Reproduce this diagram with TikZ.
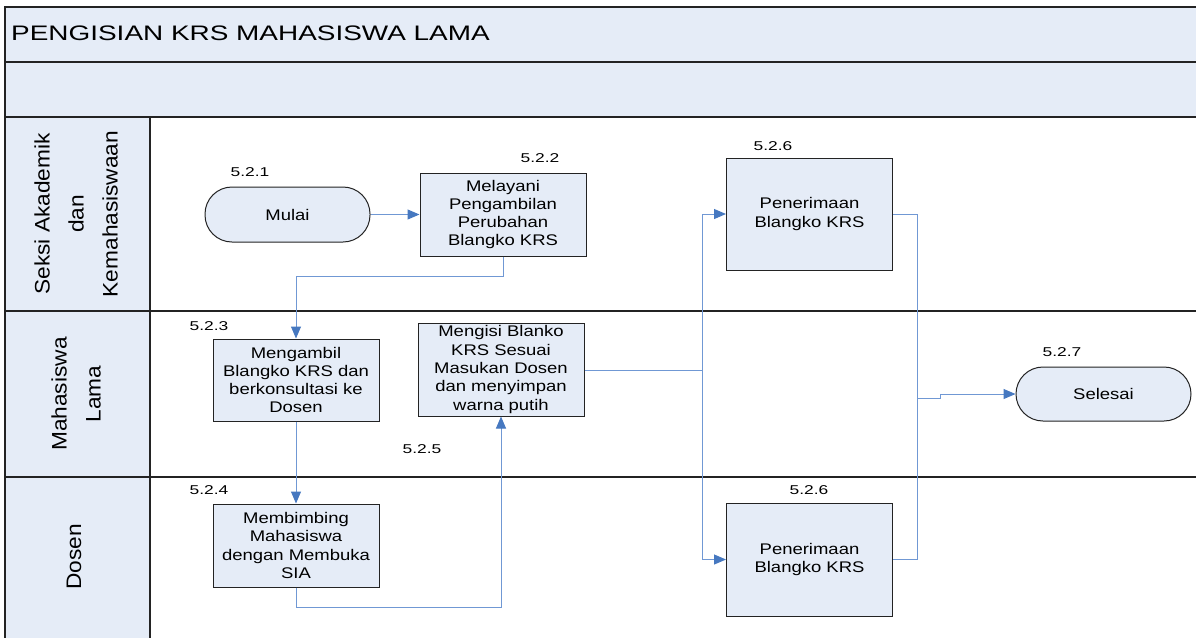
\documentclass[tikz,border=0pt]{standalone}
\usepackage{fontspec}
\setmainfont{Liberation Sans}
\newfontfamily\titlefont[FakeStretch=1.33]{Liberation Sans}
\newfontfamily\boxfont[FakeStretch=1.2]{Liberation Sans}
\newfontfamily\numfont[FakeStretch=1.36]{Liberation Sans}
\newfontfamily\lanefont[FakeStretch=1.08]{Liberation Sans}
\usetikzlibrary{arrows.meta,positioning}
\definecolor{lanefill}{RGB}{229,236,247}
\definecolor{boxfill}{RGB}{229,236,247}
\definecolor{connc}{RGB}{112,152,212}
\definecolor{tipc}{RGB}{70,120,192}
\definecolor{borderc}{RGB}{35,35,35}
\tikzset{
  procbox/.style={draw=borderc,line width=1pt,fill=boxfill,minimum width=166pt,text width=162pt,align=center,font=\boxfont\fontsize{15.4}{18.3}\selectfont,inner sep=2pt},
  term/.style={draw=borderc,line width=1pt,fill=boxfill,rounded corners=27pt,font=\boxfont\fontsize{15.4}{18.3}\selectfont},
  numlbl/.style={font=\numfont\fontsize{12.8}{15}\selectfont,inner sep=0pt},
  lanelbl/.style={rotate=90,align=center,font=\lanefont\fontsize{21}{34}\selectfont,inner sep=0pt},
  conn/.style={draw=connc,line width=1pt,-{Triangle[length=12pt,width=10pt,color=tipc]}},
  plain/.style={draw=connc,line width=1pt},
  frame/.style={draw=borderc,line width=1.2pt}
}
\begin{document}
\begin{tikzpicture}[x=1pt,y=-1pt]
\useasboundingbox (0,0) rectangle (1196,638);
\fill[white] (0,0) rectangle (1196,638);
% header bands
\fill[lanefill] (5,7) rectangle (1196,117);
\fill[lanefill] (5,117) rectangle (150,638);
\draw[frame] (1196,7) -- (5,7) -- (5,638);
\draw[frame] (5,62) -- (1196,62);
\draw[frame] (5,117) -- (1196,117);
\draw[frame] (5,311) -- (1196,311);
\draw[frame] (5,477) -- (1196,477);
\draw[frame] (150,117) -- (150,638);
\node[anchor=west,font=\titlefont\fontsize{21}{25}\selectfont,inner sep=0pt] (title) at (11,33) {PENGISIAN KRS MAHASISWA LAMA};
% lane labels
\node[lanelbl] (lane1) at (76,214) {Seksi Akademik\\dan\\Kemahasiswaan};
\node[lanelbl] (lane2) at (76,394) {Mahasiswa\\Lama};
\node[lanelbl] (lane3) at (74,557) {Dosen};
% nodes
\node[term,minimum width=165pt,minimum height=55pt] (mulai) at (287.5,214.5) {Mulai};
\node[procbox,minimum height=83pt] (p522) at (503,214.5) {Melayani\\Pengambilan\\Perubahan\\Blangko KRS};
\node[procbox,minimum width=165pt,minimum height=112pt] (p526a) at (809.5,214) {Penerimaan\\Blangko KRS};
\node[procbox,minimum height=82pt] (p523) at (296,380) {Mengambil\\Blangko KRS dan\\berkonsultasi ke\\Dosen};
\node[procbox,minimum height=93pt] (p525) at (501,369.5) {Mengisi Blanko\\KRS Sesuai\\Masukan Dosen\\dan menyimpan\\warna putih};
\node[procbox,minimum height=83pt] (p524) at (296,545.5) {Membimbing\\Mahasiswa\\dengan Membuka\\SIA};
\node[procbox,minimum width=165pt,minimum height=113pt] (p526b) at (809.5,559.5) {Penerimaan\\Blangko KRS};
\node[term,minimum width=175pt,minimum height=54pt] (selesai) at (1103.5,394) {Selesai};
% number labels
\node[numlbl] (l521) at (250,172) {5.2.1};
\node[numlbl] (l522) at (540,158) {5.2.2};
\node[numlbl] (l526a) at (773,146) {5.2.6};
\node[numlbl] (l523) at (209,326) {5.2.3};
\node[numlbl] (l525) at (422,449) {5.2.5};
\node[numlbl] (l524) at (209,490) {5.2.4};
\node[numlbl] (l526b) at (809,490) {5.2.6};
\node[numlbl] (l527) at (1062,352) {5.2.7};
% connectors
\coordinate (split) at (702,370);
\coordinate (merge) at (917,398);
\coordinate (jog) at (940,398);
\draw[conn] (mulai) -- (p522);
\draw[conn] (p522.south) -- ++(0,20) -| (p523.north);
\draw[conn] (p523) -- (p524);
\draw[conn] (p524.south) -- ++(0,20) -| (p525.south);
\draw[plain] (p525.east |- split) -- (split);
\draw[conn] (split) |- (p526a.west);
\draw[conn] (split) |- (p526b.west);
\draw[plain] (p526a.east) -| (merge);
\draw[plain] (p526b.east) -| (merge);
\draw[conn] (merge) -- (jog) -- (jog |- selesai.west) -- (selesai.west);
\end{tikzpicture}
\end{document}
